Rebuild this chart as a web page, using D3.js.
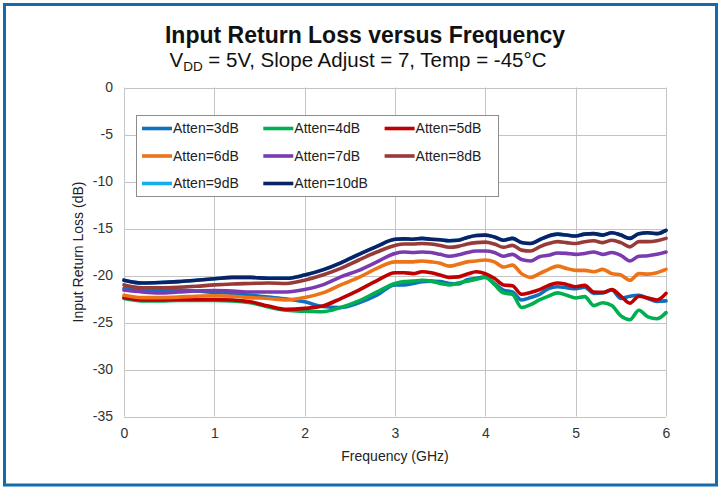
<!DOCTYPE html>
<html>
<head>
<meta charset="utf-8">
<script src="https://cdn.jsdelivr.net/npm/d3@7"></script>
<style>
  html, body { margin: 0; padding: 0; background: #fff; }
  svg { display: block; }
  text { font-family: "Liberation Sans", Arial, sans-serif; }
</style>
</head>
<body>
<svg id="chart" width="719" height="487"></svg>
<script>
// ---- data ----
const freqGHz = [0,0.2,0.4,0.6,0.8,1.0,1.2,1.4,1.6,1.8,2.0,2.2,2.4,2.6,2.8,3.0,3.1,3.2,3.3,3.4,3.5,3.6,3.7,3.8,3.9,4.0,4.1,4.2,4.3,4.4,4.5,4.6,4.7,4.8,4.9,5.0,5.1,5.2,5.3,5.4,5.5,5.6,5.7,5.8,5.9,6.0];

const atten3dB = [-21.35,-21.5,-21.55,-21.55,-21.65,-21.8,-21.9,-22.1,-22.3,-22.5,-22.8,-23.3,-23.4,-22.9,-22.1,-21.0,-21.0,-20.85,-20.65,-20.6,-20.65,-20.85,-20.9,-20.45,-20.3,-20.15,-20.85,-21.55,-21.75,-22.6,-22.35,-22.0,-21.4,-21.2,-21.3,-21.4,-21.25,-21.9,-21.85,-21.55,-22.45,-22.2,-22.1,-22.45,-22.75,-22.7];
const atten4dB = [-22.45,-22.7,-22.7,-22.65,-22.65,-22.65,-22.7,-22.9,-23.35,-23.7,-23.8,-23.85,-23.4,-22.7,-21.75,-20.85,-20.65,-20.6,-20.5,-20.6,-20.85,-21.0,-20.8,-20.6,-20.4,-20.2,-20.95,-21.85,-22.0,-23.4,-23.1,-22.6,-22.2,-21.85,-22.1,-22.4,-22.25,-23.2,-22.9,-23.2,-24.3,-24.7,-23.7,-24.4,-24.6,-23.95];
const atten5dB = [-22.35,-22.6,-22.6,-22.55,-22.55,-22.55,-22.6,-22.8,-23.25,-23.6,-23.5,-23.25,-22.45,-21.55,-20.55,-19.7,-19.7,-19.8,-19.6,-19.7,-19.95,-20.2,-20.15,-19.85,-19.6,-19.8,-20.3,-21.0,-21.1,-22.0,-21.8,-21.5,-21.05,-20.8,-20.95,-21.2,-21.05,-21.75,-21.8,-21.5,-22.2,-22.95,-22.2,-22.4,-22.6,-21.9];
const atten6dB = [-22.1,-22.35,-22.35,-22.3,-22.2,-22.15,-22.2,-22.35,-22.45,-22.6,-22.35,-21.85,-21.0,-20.2,-19.25,-18.55,-18.55,-18.55,-18.45,-18.55,-18.7,-19.0,-18.8,-18.55,-18.45,-18.35,-18.55,-19.1,-18.9,-19.8,-20.2,-19.8,-19.35,-19.0,-19.25,-19.45,-19.45,-19.6,-19.35,-19.8,-19.95,-20.5,-19.8,-19.85,-19.7,-19.35];
const atten7dB = [-21.55,-21.75,-21.85,-21.75,-21.65,-21.6,-21.65,-21.75,-21.75,-21.75,-21.5,-21.0,-20.15,-19.45,-18.55,-17.65,-17.5,-17.55,-17.5,-17.55,-17.75,-17.95,-17.8,-17.55,-17.4,-17.4,-17.55,-17.95,-17.75,-18.3,-18.45,-18.0,-17.85,-17.6,-17.65,-17.75,-17.65,-17.5,-17.75,-17.55,-17.85,-18.45,-17.95,-17.9,-17.75,-17.5];
const atten8dB = [-21.0,-21.3,-21.3,-21.25,-21.15,-21.0,-20.9,-20.85,-20.8,-20.85,-20.5,-19.95,-19.25,-18.35,-17.5,-16.8,-16.65,-16.65,-16.6,-16.65,-16.8,-17.0,-16.9,-16.65,-16.5,-16.45,-16.65,-17.0,-16.8,-17.3,-17.4,-16.95,-16.6,-16.4,-16.5,-16.6,-16.4,-16.3,-16.5,-16.25,-16.5,-16.95,-16.4,-16.4,-16.3,-16.05];
const atten9dB = [-20.5,-20.8,-20.75,-20.65,-20.5,-20.35,-20.2,-20.2,-20.3,-20.3,-19.95,-19.4,-18.65,-17.75,-16.9,-16.15,-16.1,-16.15,-16.05,-16.15,-16.2,-16.3,-16.25,-15.95,-15.75,-15.7,-15.9,-16.25,-16.05,-16.5,-16.6,-16.2,-15.8,-15.6,-15.7,-15.8,-15.6,-15.55,-15.7,-15.45,-15.7,-16.05,-15.55,-15.45,-15.55,-15.2];
const atten10dB = [-20.5,-20.8,-20.75,-20.65,-20.5,-20.35,-20.2,-20.2,-20.3,-20.3,-19.95,-19.4,-18.65,-17.75,-16.9,-16.15,-16.1,-16.15,-16.05,-16.15,-16.2,-16.3,-16.25,-15.95,-15.75,-15.7,-15.9,-16.25,-16.05,-16.5,-16.6,-16.2,-15.8,-15.6,-15.7,-15.8,-15.6,-15.55,-15.7,-15.45,-15.7,-16.05,-15.55,-15.45,-15.55,-15.2];

const seriesNames = ["Atten=3dB","Atten=4dB","Atten=5dB","Atten=6dB","Atten=7dB","Atten=8dB","Atten=9dB","Atten=10dB"];
const seriesValues = [atten3dB, atten4dB, atten5dB, atten6dB, atten7dB, atten8dB, atten9dB, atten10dB];
const seriesColors = ["#0f70c0","#00b050","#c00000","#ee7316","#7a3bb0","#973b38","#13b0ee","#0b2366"];

const xTicks = [0,1,2,3,4,5,6];
const yTicks = [0,-5,-10,-15,-20,-25,-30,-35];

const titleText = "Input Return Loss versus Frequency";
const xAxisTitle = "Frequency (GHz)";
const yAxisTitle = "Input Return Loss (dB)";

// ---- layout ----
const svg = d3.select("#chart");
const plot = {left: 124, top: 87.5, width: 542, height: 329};

// outer blue frame
svg.append("rect").attr("x", 4.5).attr("y", 4.5).attr("width", 712).attr("height", 480.5)
  .attr("fill", "#fff").attr("stroke", "#136aad").attr("stroke-width", 3);

const x = d3.scaleLinear().domain([0, 6]).range([plot.left, plot.left + plot.width]);
const y = d3.scaleLinear().domain([-35, 0]).range([plot.top + plot.height, plot.top]);

// gridlines
const g = svg.append("g");
g.selectAll("line.vg").data(xTicks).join("line")
  .attr("x1", d => Math.round(x(d)) + 0.5).attr("x2", d => Math.round(x(d)) + 0.5)
  .attr("y1", y(0)).attr("y2", y(-35))
  .attr("stroke", "#c4c4c4").attr("stroke-width", 1);
g.selectAll("line.hg").data(yTicks).join("line")
  .attr("y1", d => Math.round(y(d)) + 0.5).attr("y2", d => Math.round(y(d)) + 0.5)
  .attr("x1", x(0)).attr("x2", x(6))
  .attr("stroke", "#c4c4c4").attr("stroke-width", 1);

// axes (labels only, via d3 axis)
const xAxis = d3.axisBottom(x).tickValues(xTicks).tickSize(0).tickPadding(10).tickFormat(d3.format("d"));
const yAxis = d3.axisLeft(y).tickValues(yTicks).tickSize(0).tickPadding(11).tickFormat(d => d === 0 ? "0" : String(d));
const gx = svg.append("g").attr("transform", `translate(0,${y(-35)})`).call(xAxis);
const gy = svg.append("g").attr("transform", `translate(${x(0)},0)`).call(yAxis);
[gx, gy].forEach(a => {
  a.select(".domain").remove();
  a.selectAll("text").attr("font-size", 14).attr("fill", "#333").attr("font-family", "Liberation Sans, Arial, sans-serif");
});
gx.selectAll("text").attr("dy", "0.85em");

// lines
const line = d3.line().x((d, i) => x(freqGHz[i])).y(d => y(d)).curve(d3.curveMonotoneX);
svg.append("g").selectAll("path").data(seriesValues).join("path")
  .attr("d", d => line(d))
  .attr("fill", "none")
  .attr("stroke", (d, i) => seriesColors[i])
  .attr("stroke-width", 3.6)
  .attr("stroke-linejoin", "round").attr("stroke-linecap", "round");

// legend
const legend = {x: 136.5, y: 115.5, w: 362, h: 81};
svg.append("rect").attr("x", legend.x).attr("y", legend.y).attr("width", legend.w).attr("height", legend.h)
  .attr("fill", "#fff").attr("stroke", "#8c8c8c").attr("stroke-width", 1);
const colW = 121.3, rowH = 27.5;
const items = svg.append("g").selectAll("g").data(seriesNames).join("g")
  .attr("transform", (d, i) => `translate(${legend.x + 5.5 + (i % 3) * colW},${legend.y + 13 + Math.floor(i / 3) * rowH})`);
items.append("line").attr("x1", 0).attr("x2", 30).attr("y1", 0).attr("y2", 0)
  .attr("stroke", (d, i) => seriesColors[i]).attr("stroke-width", 3.6);
items.append("text").attr("x", 31).attr("y", 0).attr("dy", "0.35em")
  .attr("font-size", 14).attr("fill", "#222").text(d => d);

// titles
svg.append("text").attr("x", 365).attr("y", 43).attr("text-anchor", "middle")
  .attr("font-size", 23).attr("font-weight", "bold").attr("fill", "#111").text(titleText);
const sub = svg.append("text").attr("x", 358).attr("y", 67).attr("text-anchor", "middle")
  .attr("font-size", 20.5).attr("fill", "#111");
sub.append("tspan").text("V");
sub.append("tspan").attr("font-size", 13.5).attr("dy", 4).text("DD");
sub.append("tspan").attr("dy", -4).text(" = 5V, Slope Adjust = 7, Temp = -45°C");

svg.append("text").attr("x", x(3)).attr("y", 461).attr("text-anchor", "middle")
  .attr("font-size", 14).attr("fill", "#222").text(xAxisTitle);
svg.append("text").attr("transform", `translate(83,${y(-17.5)}) rotate(-90)`).attr("text-anchor", "middle")
  .attr("font-size", 14).attr("fill", "#222").text(yAxisTitle);
</script>
</body>
</html>
